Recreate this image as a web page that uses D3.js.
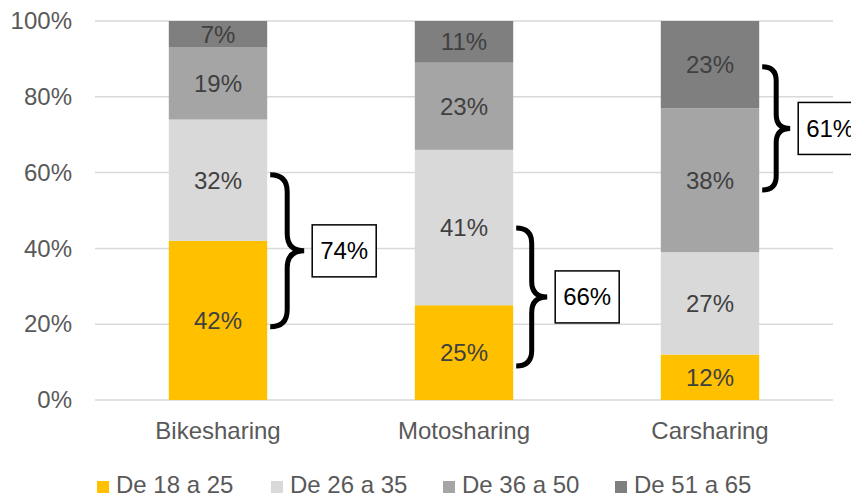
<!DOCTYPE html>
<html>
<head>
<meta charset="utf-8">
<script src="https://cdn.jsdelivr.net/npm/d3@7"></script>
<style>
  body { margin: 0; background: #fff; }
  text { font-family: "Liberation Sans", Arial, sans-serif; }
</style>
</head>
<body>
<script>
    // chart data
    const categories = ["Bikesharing", "Motosharing", "Carsharing"];
    const ageGroups = ["De 18 a 25", "De 26 a 35", "De 36 a 50", "De 51 a 65"];
    const age18to25 = [42, 25, 12];
    const age26to35 = [32, 41, 27];
    const age36to50 = [19, 23, 38];
    const age51to65 = [7, 11, 23];
    const yTicks = [0, 20, 40, 60, 80, 100];

    // brace annotations (range in % of the axis, label shown in the box)
    const braceCats = ["Bikesharing", "Motosharing", "Carsharing"];
    const braceFrom = [19.3, 9.0, 55.4];
    const braceTo = [59.4, 45.4, 87.9];
    const braceLabels = ["74%", "66%", "61%"];

    const colors = ['#FFC000', '#D9D9D9', '#A5A5A5', '#7F7F7F'];

    const W = 851, H = 497;
    const margin = {left: 95, top: 21, right: 18, bottom: 97},
        width = W - margin.left - margin.right,
        height = H - margin.top - margin.bottom;

    const svg = d3.select('body').append('svg')
        .attr('width', W)
        .attr('height', H);

    const g = svg.append('g')
        .attr('transform', `translate(${margin.left}, ${margin.top})`);

    // scales
    const xScale = d3.scaleBand()
        .domain(categories)
        .range([0, width])
        .paddingInner(0.6)
        .paddingOuter(0.3);

    const yScale = d3.scaleLinear()
        .domain([0, 100])
        .range([height, 0]);

    // gridlines
    g.append('g')
        .selectAll('line')
        .data(yTicks)
        .enter()
        .append('line')
            .attr('x1', 0)
            .attr('x2', width)
            .attr('y1', d => yScale(d))
            .attr('y2', d => yScale(d))
            .attr('stroke', '#D9D9D9')
            .attr('stroke-width', 1.5);

    // y axis (labels only)
    const yAxis = d3.axisLeft(yScale)
        .tickValues(yTicks)
        .tickFormat(d => d + '%')
        .tickSize(0)
        .tickPadding(23);

    const yAxisGroup = g.append('g')
        .attr('class', 'axis y-axis')
        .call(yAxis);
    yAxisGroup.select('.domain').remove();
    yAxisGroup.selectAll('text')
        .attr('font-size', '24px')
        .attr('fill', '#595959')
        .style('font-family', '"Liberation Sans", Arial, sans-serif');

    // x axis (labels only)
    const xAxis = d3.axisBottom(xScale)
        .tickSize(0)
        .tickPadding(22);

    const xAxisGroup = g.append('g')
        .attr('class', 'axis x-axis')
        .attr('transform', `translate(0, ${height})`)
        .call(xAxis);
    xAxisGroup.select('.domain').remove();
    xAxisGroup.selectAll('text')
        .attr('font-size', '24px')
        .attr('fill', '#595959')
        .style('font-family', '"Liberation Sans", Arial, sans-serif');

    // stacked data
    const table = categories.map((c, i) => ({
        cat: c,
        [ageGroups[0]]: age18to25[i],
        [ageGroups[1]]: age26to35[i],
        [ageGroups[2]]: age36to50[i],
        [ageGroups[3]]: age51to65[i]
    }));
    const stacked = d3.stack().keys(ageGroups)(table);

    const layers = g.selectAll('.layer')
        .data(stacked)
        .enter()
        .append('g')
            .attr('class', 'layer')
            .attr('fill', (d, i) => colors[i]);

    layers.selectAll('rect')
        .data(d => d)
        .enter()
        .append('rect')
            .attr('x', d => xScale(d.data.cat))
            .attr('y', d => yScale(d[1]))
            .attr('width', xScale.bandwidth())
            .attr('height', d => yScale(d[0]) - yScale(d[1]));

    layers.selectAll('text')
        .data(d => d)
        .enter()
        .append('text')
            .attr('x', d => xScale(d.data.cat) + xScale.bandwidth() / 2)
            .attr('y', d => yScale((d[0] + d[1]) / 2))
            .attr('dy', '0.35em')
            .attr('text-anchor', 'middle')
            .attr('font-size', '24px')
            .attr('fill', '#404040')
            .text(d => (d[1] - d[0]) + '%');

    // curly braces
    function bracePath(x, y1, y2, w) {
        const m = (y1 + y2) / 2, q = w / 2;
        return `M${x},${y1} Q${x + q},${y1} ${x + q},${y1 + q}` +
            ` L${x + q},${m - q} Q${x + q},${m} ${x + w},${m}` +
            ` Q${x + q},${m} ${x + q},${m + q}` +
            ` L${x + q},${y2 - q} Q${x + q},${y2} ${x},${y2}`;
    }

    const braceW = [34, 31, 28];
    braceCats.forEach((c, i) => {
        const x0 = xScale(c) + xScale.bandwidth() + 3;
        const yTop = yScale(braceTo[i]);
        const yBot = yScale(braceFrom[i]);
        const mid = (yTop + yBot) / 2;
        const bx = x0 + braceW[i] + 8;
        g.append('path')
            .attr('d', bracePath(x0, yTop, yBot, braceW[i]))
            .attr('fill', 'none')
            .attr('stroke', '#000')
            .attr('stroke-width', 5);
        g.append('rect')
            .attr('x', bx)
            .attr('y', mid - 26)
            .attr('width', 64)
            .attr('height', 52)
            .attr('fill', '#fff')
            .attr('stroke', '#000')
            .attr('stroke-width', 1.5);
        g.append('text')
            .attr('x', bx + 32)
            .attr('y', mid)
            .attr('dy', '0.35em')
            .attr('text-anchor', 'middle')
            .attr('font-size', '24px')
            .attr('fill', '#000')
            .text(braceLabels[i]);
    });

    // legend
    const legendX = [97, 271, 443, 615];
    const legend = svg.append('g');
    ageGroups.forEach((a, i) => {
        legend.append('rect')
            .attr('x', legendX[i])
            .attr('y', 481)
            .attr('width', 12)
            .attr('height', 12)
            .attr('fill', colors[i]);
        legend.append('text')
            .attr('x', legendX[i] + 19)
            .attr('y', 493)
            .attr('font-size', '24px')
            .attr('fill', '#595959')
            .text(a);
    });
</script>
</body>
</html>
